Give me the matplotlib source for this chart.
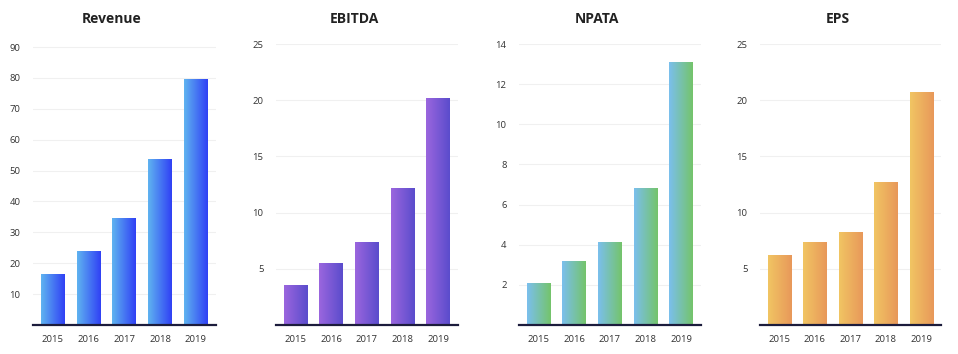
import numpy as np
import matplotlib
matplotlib.use("Agg")
import matplotlib.pyplot as plt
from matplotlib.colors import LinearSegmentedColormap

years = ["2015", "2016", "2017", "2018", "2019"]
titles = ["Revenue", "EBITDA", "NPATA", "EPS"]
revenue = [16.4, 24.0, 34.6, 53.7, 79.8]
ebitda = [3.6, 5.5, 7.4, 12.2, 20.2]
npata = [2.08, 3.18, 4.14, 6.82, 13.12]
eps = [6.2, 7.4, 8.25, 12.7, 20.7]
series = [revenue, ebitda, npata, eps]
yticks = [list(range(10, 91, 10)), [5, 10, 15, 20, 25], [2, 4, 6, 8, 10, 12, 14], [5, 10, 15, 20, 25]]
ylims = [91, 25, 14, 25]
grad_colors = [("#5fb4f0", "#3040f5"), ("#9b66de", "#5a4ccc"),
               ("#7bbfee", "#74c46a"), ("#f1c563", "#e8985a")]

W, H = 958, 354
fig = plt.figure(figsize=(W / 100, H / 100), dpi=100)
plt.rcParams['font.family'] = ['Open Sans', 'DejaVu Sans']

# axes pixel extents (left, right)
ax_px = [(33, 216), (276, 458), (519, 701), (760, 941)]
top_px, bot_px = 44, 325

for i, (l, r) in enumerate(ax_px):
    ax = fig.add_axes([l / W, 1 - bot_px / H, (r - l) / W, (bot_px - top_px) / H])
    x = np.arange(len(years))
    bars = ax.bar(x, series[i], width=0.655, color="none", edgecolor="none", zorder=3)
    cmap = LinearSegmentedColormap.from_list("g", grad_colors[i])
    grad = np.linspace(0, 1, 256).reshape(1, -1)
    for b in bars:
        bx, by = b.get_x(), b.get_y()
        bw, bh = b.get_width(), b.get_height()
        im = ax.imshow(grad, cmap=cmap, aspect="auto", extent=[bx, bx + bw, by, by + bh],
                       zorder=3, interpolation="bilinear")
        im.set_clip_path(b)
    ax.set_xlim(-0.54, 4.56)
    ax.set_ylim(0, ylims[i])
    ax.set_xticks(x)
    ax.set_xticklabels(years)
    ax.set_yticks(yticks[i])
    ax.set_yticklabels([str(t) for t in yticks[i]])
    ax.tick_params(axis="both", length=0, labelsize=6.8, colors="#333333")
    ax.tick_params(axis="x", pad=7.5)
    ax.tick_params(axis="y", pad=9)
    ax.grid(axis="y", color="#f0f0f0", linewidth=0.8, zorder=0)
    ax.set_axisbelow(True)
    for s in ["top", "right", "left"]:
        ax.spines[s].set_visible(False)
    ax.spines["bottom"].set_color("#1c1c3c")
    ax.spines["bottom"].set_linewidth(1.6)
    ax.spines["bottom"].set_zorder(4)
    ax.set_title(titles[i], fontsize=10, fontweight="bold", color="#222222",
                 x=0.43, y=1.0, pad=15)

fig.savefig("out.png", dpi=100)
